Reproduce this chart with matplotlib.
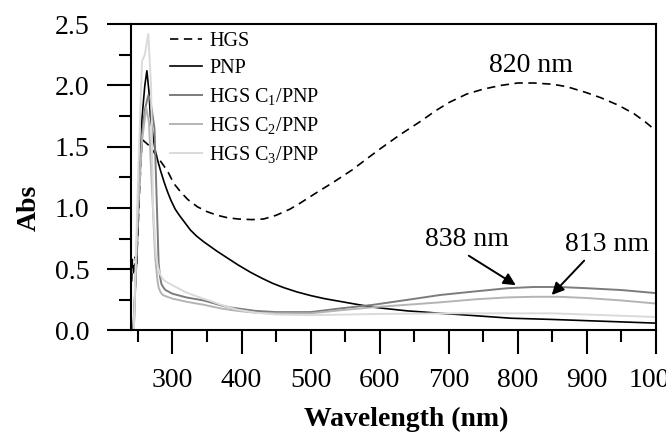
import matplotlib
matplotlib.use("Agg")
import matplotlib.pyplot as plt
from matplotlib.ticker import MultipleLocator

plt.rcParams['font.family'] = ['Liberation Serif', 'DejaVu Serif']
plt.rcParams['mathtext.fontset'] = 'custom'
plt.rcParams['mathtext.rm'] = 'Liberation Serif'
plt.rcParams['mathtext.it'] = 'Liberation Serif:italic'
plt.rcParams['mathtext.bf'] = 'Liberation Serif:bold'
plt.rcParams['lines.scale_dashes'] = False

# ---------------- data ----------------
hgs_x = [241, 242, 244, 246, 248, 252, 256, 262, 268, 275, 283, 293, 302, 312, 322,
         336, 350, 365, 380, 395, 415, 432, 450, 470, 485, 510, 533, 560, 581, 600,
         630, 660, 680, 700, 726, 750, 775, 800, 823, 850, 871, 900, 920, 945, 968,
         985, 1000]
hgs_y = [0.40, 0.58, 0.45, 0.60, 0.52, 1.10, 1.56, 1.53, 1.50, 1.44, 1.38, 1.30, 1.20,
         1.13, 1.07, 1.01, 0.97, 0.94, 0.92, 0.91, 0.905, 0.91, 0.94, 0.99, 1.04, 1.13,
         1.21, 1.31, 1.40, 1.48, 1.60, 1.71, 1.79, 1.86, 1.93, 1.97, 2.00, 2.02, 2.02,
         2.01, 1.99, 1.94, 1.90, 1.84, 1.77, 1.70, 1.63]

pnp_x = [243, 248, 252, 256, 260, 263, 266, 268, 272, 275, 279, 283, 288, 293, 298,
         304, 310, 318, 326, 335, 345, 355, 365, 380, 395, 413, 430, 445, 461, 480,
         500, 520, 540, 565, 591, 615, 640, 665, 688, 715, 740, 765, 790, 820, 850,
         900, 950, 1000]
pnp_y = [0.00, 0.55, 1.20, 1.74, 2.00, 2.12, 1.95, 1.75, 1.58, 1.47, 1.38, 1.30, 1.21,
         1.13, 1.06, 0.99, 0.94, 0.88, 0.82, 0.77, 0.725, 0.685, 0.645, 0.59, 0.535,
         0.475, 0.425, 0.385, 0.35, 0.315, 0.285, 0.26, 0.24, 0.215, 0.19, 0.175, 0.16,
         0.15, 0.14, 0.13, 0.12, 0.11, 0.10, 0.095, 0.09, 0.08, 0.07, 0.06]

c1_x = [244, 250, 256, 260, 265, 268, 274, 277, 280, 282, 284, 287, 290, 295, 300,
        310, 320, 335, 345, 358, 370, 382, 394, 420, 450, 500, 543, 591, 640, 688,
        740, 785, 823, 860, 900, 950, 1000]
c1_y = [0.00, 1.00, 1.60, 1.80, 1.92, 1.88, 1.65, 1.10, 0.55, 0.44, 0.38, 0.35, 0.33,
        0.315, 0.30, 0.285, 0.27, 0.255, 0.245, 0.225, 0.205, 0.19, 0.18, 0.16, 0.15,
        0.15, 0.18, 0.21, 0.25, 0.29, 0.32, 0.345, 0.355, 0.355, 0.345, 0.33, 0.305]

c2_x = [244, 250, 256, 262, 266, 270, 275, 278, 280, 283, 286, 290, 300, 320, 345,
        370, 394, 420, 450, 500, 543, 591, 640, 688, 740, 785, 823, 860, 900, 950,
        1000]
c2_y = [0.00, 0.95, 1.55, 1.82, 1.70, 1.20, 0.60, 0.42, 0.35, 0.31, 0.29, 0.28, 0.26,
        0.235, 0.21, 0.18, 0.16, 0.145, 0.14, 0.14, 0.165, 0.19, 0.21, 0.23, 0.255,
        0.27, 0.275, 0.275, 0.265, 0.245, 0.22]

c3_x = [244, 250, 256, 260, 265, 269, 272, 276, 279, 282, 286, 290, 300, 310, 320,
        332, 345, 358, 370, 382, 394, 420, 450, 500, 550, 600, 700, 800, 850, 900,
        950, 1000]
c3_y = [0.00, 1.20, 2.20, 2.25, 2.42, 2.00, 1.00, 0.62, 0.52, 0.46, 0.42, 0.40, 0.37,
        0.34, 0.31, 0.285, 0.26, 0.235, 0.21, 0.19, 0.17, 0.145, 0.13, 0.125, 0.13,
        0.135, 0.14, 0.14, 0.14, 0.13, 0.12, 0.11]

labels = ['HGS', 'PNP', r'HGS C$_{\mathrm{1}}$/PNP', r'HGS C$_{\mathrm{2}}$/PNP',
          r'HGS C$_{\mathrm{3}}$/PNP']

x_major = [300, 400, 500, 600, 700, 800, 900, 1000]
y_major = [0.0, 0.5, 1.0, 1.5, 2.0, 2.5]

# annotation texts and positions
peak_texts = ['820 nm', '838 nm', '813 nm']
peak_text_pos = [(819, 2.16), (726, 0.74), (929, 0.70)]
arrow_tails = [None, (729, 0.61), (896, 0.57)]
arrow_heads = [None, (797, 0.37), (849, 0.29)]

# ---------------- figure ----------------
fig = plt.figure(figsize=(6.66, 4.32), dpi=100)
ax = fig.add_axes([0.1967, 0.235, 0.7883, 0.709])

lw = 1.2
ax.plot(hgs_x, hgs_y, color='black', lw=lw, dashes=(6, 4), label=labels[0])
ax.plot(pnp_x, pnp_y, color='black', lw=lw, label=labels[1])
ax.plot(c1_x, c1_y, color='#7c7c7c', lw=lw + 0.2, label=labels[2])
ax.plot(c2_x, c2_y, color='#b4b4b4', lw=lw + 0.2, label=labels[3])
ax.plot(c3_x, c3_y, color='#dadada', lw=lw + 0.2, label=labels[4])

ax.set_xlim(240, 1000)
ax.set_ylim(0, 2.5)
ax.set_xticks(x_major)
ax.set_xticklabels([str(v) for v in x_major])
ax.set_yticks(y_major)
ax.set_yticklabels([f'{v:.1f}' for v in y_major])
ax.xaxis.set_minor_locator(MultipleLocator(50))
ax.yaxis.set_minor_locator(MultipleLocator(0.25))

ax.tick_params(axis='both', which='major', direction='out', length=17, width=1.5,
               labelsize=20)
ax.tick_params(axis='both', which='minor', direction='out', length=8.5, width=1.5)
ax.tick_params(axis='y', which='major', pad=13)
ax.tick_params(axis='x', which='major', pad=10)
for s in ax.spines.values():
    s.set_linewidth(1.5)

ax.set_xlabel('Wavelength (nm)', fontsize=20, fontweight='bold')
ax.set_ylabel('Abs', fontsize=20, fontweight='bold')
ax.xaxis.set_label_coords(0.524, -0.25)
ax.yaxis.set_label_coords(-0.17, 0.40)

leg = ax.legend(loc='upper left', bbox_to_anchor=(0.074, 0.975), frameon=False,
                fontsize=14.5, handlelength=1.6, handletextpad=0.35, labelspacing=0.4,
                borderpad=0, borderaxespad=0)

for t, p in zip(peak_texts, peak_text_pos):
    ax.text(p[0], p[1], t, fontsize=20, ha='center', va='center')
for tail, head in zip(arrow_tails, arrow_heads):
    if tail is None:
        continue
    ax.annotate('', xy=head, xytext=tail,
                arrowprops=dict(arrowstyle='-|>', color='black', lw=1.4,
                                mutation_scale=18, shrinkA=0, shrinkB=0))

fig.savefig('out.png', dpi=100)
